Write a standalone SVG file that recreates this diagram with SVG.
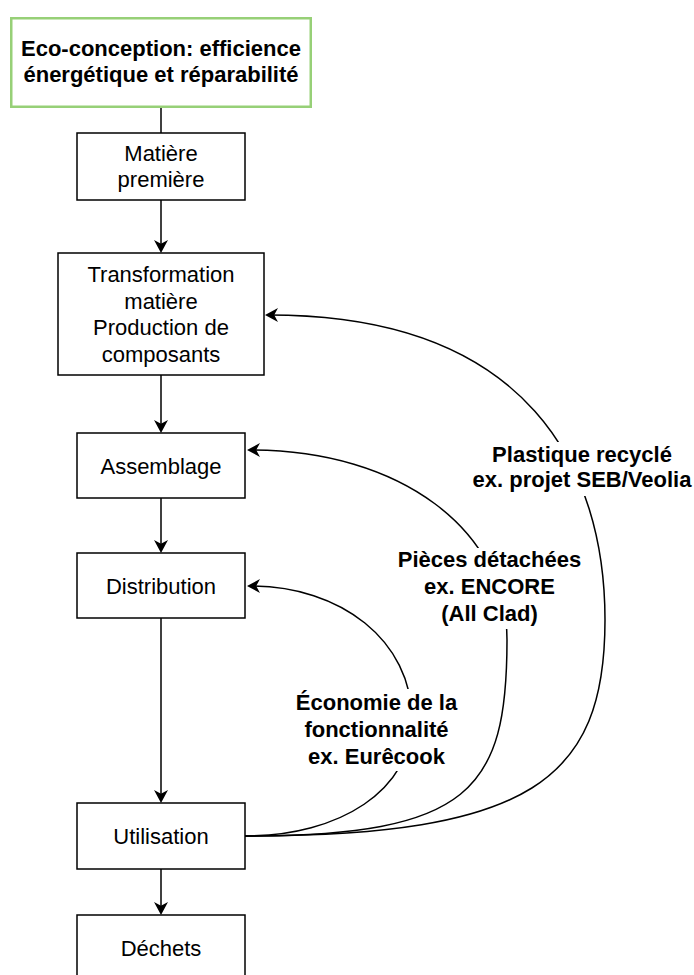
<svg xmlns="http://www.w3.org/2000/svg" width="694" height="975" viewBox="0 0 694 975">
  <style>
    .box { fill: #ffffff; stroke: #000000; stroke-width: 1.5; }
    .eco { fill: #ffffff; stroke: #97D077; stroke-width: 2.5; }
    .t { font-family: "Liberation Sans", Arial, Helvetica, sans-serif; font-size: 22px; fill: #000000; text-anchor: middle; }
    .b { font-weight: bold; }
    .edge { fill: none; stroke: #000000; stroke-width: 1.5; }
    .lblbg { fill: #ffffff; stroke: none; }
  </style>
  <defs>
    <marker id="arrow" markerUnits="userSpaceOnUse" markerWidth="13" markerHeight="14" viewBox="0 0 13 14" refX="9" refY="7" orient="auto">
      <path d="M0,0 L13,7 L0,14 L3.8,7 Z" fill="#000000"/>
    </marker>
  </defs>
  <rect width="694" height="975" fill="#ffffff"/>

  <g id="connectors">
    <path class="edge" d="M161,107 L161,133"/>
    <path class="edge" d="M161,200 L161,249" marker-end="url(#arrow)"/>
    <path class="edge" d="M161,375 L161,429" marker-end="url(#arrow)"/>
    <path class="edge" d="M161,498 L161,549" marker-end="url(#arrow)"/>
    <path class="edge" d="M161,618 L161,799" marker-end="url(#arrow)"/>
    <path class="edge" d="M161,869 L161,911" marker-end="url(#arrow)"/>
    <path class="edge" d="M245,836 C340,836 412,790 412,720 C412,640 340,586 251,586" marker-end="url(#arrow)"/>
    <path class="edge" d="M245,836 C470,836 507,790 507,640 C507,530 400,450 251,450" marker-end="url(#arrow)"/>
    <path class="edge" d="M245,836 C530,836 605,780 605,620 C605,470 530,315 269,315" marker-end="url(#arrow)"/>
  </g>

  <g id="label-eurecook">
    <rect class="lblbg" x="293" y="689" width="167" height="82"/>
    <text class="t b" x="376.5" y="710">Économie de la</text>
    <text class="t b" x="376.5" y="737">fonctionnalité</text>
    <text class="t b" x="376.5" y="764">ex. Eurêcook</text>
  </g>
  <g id="label-encore">
    <rect class="lblbg" x="395" y="548" width="189" height="81"/>
    <text class="t b" x="489.5" y="567">Pièces détachées</text>
    <text class="t b" x="489.5" y="594">ex. ENCORE</text>
    <text class="t b" x="489.5" y="621">(All Clad)</text>
  </g>
  <g id="label-veolia">
    <rect class="lblbg" x="468" y="442" width="226" height="54"/>
    <text class="t b" x="582" y="462">Plastique recyclé</text>
    <text class="t b" x="582" y="487">ex. projet SEB/Veolia</text>
  </g>

  <g id="eco-conception">
    <rect class="eco" x="11.25" y="18.25" width="299.5" height="88.5"/>
    <text class="t b" x="161" y="55.5">Eco-conception: efficience</text>
    <text class="t b" x="161" y="82">énergétique et réparabilité</text>
  </g>
  <g id="matiere-premiere">
    <rect class="box" x="77" y="133" width="168" height="67"/>
    <text class="t" x="161" y="161">Matière</text>
    <text class="t" x="161" y="187">première</text>
  </g>
  <g id="transformation">
    <rect class="box" x="58" y="253" width="206" height="122"/>
    <text class="t" x="161" y="282">Transformation</text>
    <text class="t" x="161" y="308.5">matière</text>
    <text class="t" x="161" y="335">Production de</text>
    <text class="t" x="161" y="362">composants</text>
  </g>
  <g id="assemblage">
    <rect class="box" x="77" y="433" width="168" height="65"/>
    <text class="t" x="161" y="473.5">Assemblage</text>
  </g>
  <g id="distribution">
    <rect class="box" x="77" y="553" width="168" height="65"/>
    <text class="t" x="161" y="593.5">Distribution</text>
  </g>
  <g id="utilisation">
    <rect class="box" x="77" y="803" width="168" height="66"/>
    <text class="t" x="161" y="844">Utilisation</text>
  </g>
  <g id="dechets">
    <rect class="box" x="77" y="915" width="168" height="66"/>
    <text class="t" x="161" y="956">Déchets</text>
  </g>
</svg>
